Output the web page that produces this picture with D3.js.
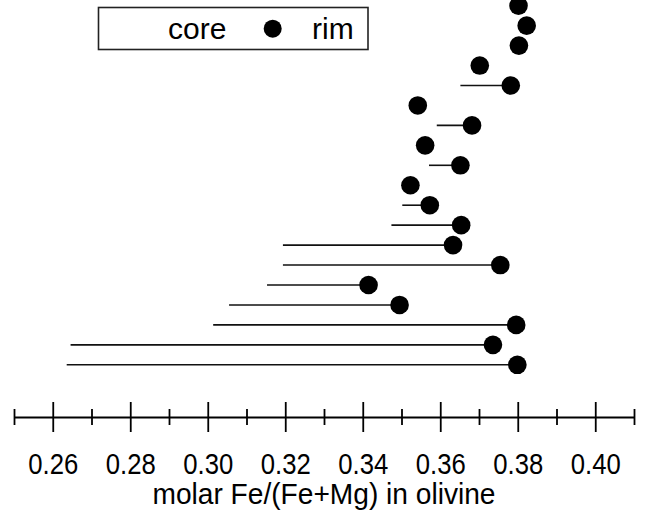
<!DOCTYPE html>
<html>
<head>
<meta charset="utf-8">
<script src="https://cdn.jsdelivr.net/npm/d3@7"></script>
<style>
body { margin: 0; background: #fff; }
text { font-family: "Liberation Sans", Arial, sans-serif; fill: #000; }
</style>
</head>
<body>
<svg id="grafico"></svg>
<script>
// one row per olivine grain, top to bottom
let rows = d3.range(1, 20);
// rim composition (dot)
let rimValues = [0.3802, 0.3823, 0.3803, 0.3702, 0.3782, 0.3542, 0.3682, 0.3561, 0.3652, 0.3523,
                 0.3573, 0.3654, 0.3633, 0.3755, 0.3415, 0.3495, 0.3796, 0.3736, 0.3799];
// core composition (left end of the line), null when no core was measured
let coreValues = [null, null, null, null, 0.3652, null, 0.3591, null, 0.3571, null,
                  0.3502, 0.3474, 0.3194, 0.3194, 0.3153, 0.3055, 0.3014, 0.2646, 0.2636];
let majorTicks = [0.26, 0.28, 0.30, 0.32, 0.34, 0.36, 0.38, 0.40];
let minorTicks = [0.25, 0.27, 0.29, 0.31, 0.33, 0.35, 0.37, 0.39, 0.41];
let legendLabels = ["core", "rim"];
let xTitle = "molar Fe/(Fe+Mg) in olivine";

let width = 645, height = 512;
let svg = d3.select("#grafico")
    .attr("width", width)
    .attr("height", height)
    .attr("viewBox", "0 0 " + width + " " + height);

let x = d3.scaleLinear().domain([0.25, 0.41]).range([14, 634]);
let y = d3.scalePoint().domain(rows).range([5.7, 364.8]);
let axisY = 417;

let data = rows.map((r, i) => ({ row: r, rim: rimValues[i], core: coreValues[i] }));

// lines from core to rim
svg.append("g").selectAll("line")
    .data(data.filter(d => d.core != null))
    .enter().append("line")
    .attr("x1", d => x(d.core))
    .attr("x2", d => x(d.rim))
    .attr("y1", d => y(d.row))
    .attr("y2", d => y(d.row))
    .attr("stroke", "#111")
    .attr("stroke-width", 1.6);

// rim dots
svg.append("g").selectAll("circle")
    .data(data)
    .enter().append("circle")
    .attr("cx", d => x(d.rim))
    .attr("cy", d => y(d.row))
    .attr("r", 9.3)
    .attr("fill", "#000");

// axis: minor ticks first, then the major ones with labels
let minorAxis = svg.append("g")
    .attr("transform", "translate(0," + axisY + ")")
    .call(d3.axisBottom(x).tickValues(minorTicks).tickSize(8).tickSizeOuter(0).tickFormat(""));
minorAxis.select(".domain").remove();
minorAxis.selectAll(".tick line").attr("y1", -8).attr("stroke-width", 1.8);

let majorAxis = svg.append("g")
    .attr("transform", "translate(0," + axisY + ")")
    .call(d3.axisBottom(x).tickValues(majorTicks).tickSize(15).tickSizeOuter(0).tickFormat(d3.format(".2f")));
majorAxis.select(".domain").attr("stroke-width", 2.2);
majorAxis.selectAll(".tick line").attr("y1", -15).attr("stroke-width", 1.8);
// the original lettering is a bit narrow, squeeze it
majorAxis.selectAll(".tick text")
    .attr("y", 57)
    .attr("dy", 0)
    .attr("textLength", 50)
    .attr("lengthAdjust", "spacingAndGlyphs")
    .style("font-size", "29px")
    .style("font-family", "'Liberation Sans', Arial, sans-serif");

svg.append("text")
    .attr("x", 324)
    .attr("y", 504)
    .attr("text-anchor", "middle")
    .attr("textLength", 343)
    .attr("lengthAdjust", "spacingAndGlyphs")
    .style("font-size", "29px")
    .text(xTitle);

// legend box
let legend = svg.append("g");
legend.append("rect")
    .attr("x", 98.5).attr("y", 7.5)
    .attr("width", 269.5).attr("height", 42)
    .attr("fill", "none")
    .attr("stroke", "#222")
    .attr("stroke-width", 1.6);
legend.append("text")
    .attr("x", 168).attr("y", 38.5)
    .style("font-size", "30px")
    .text(legendLabels[0]);
legend.append("circle")
    .attr("cx", 272.7).attr("cy", 28.7)
    .attr("r", 9)
    .attr("fill", "#000");
legend.append("text")
    .attr("x", 312).attr("y", 38.5)
    .style("font-size", "30px")
    .text(legendLabels[1]);
</script>
</body>
</html>
